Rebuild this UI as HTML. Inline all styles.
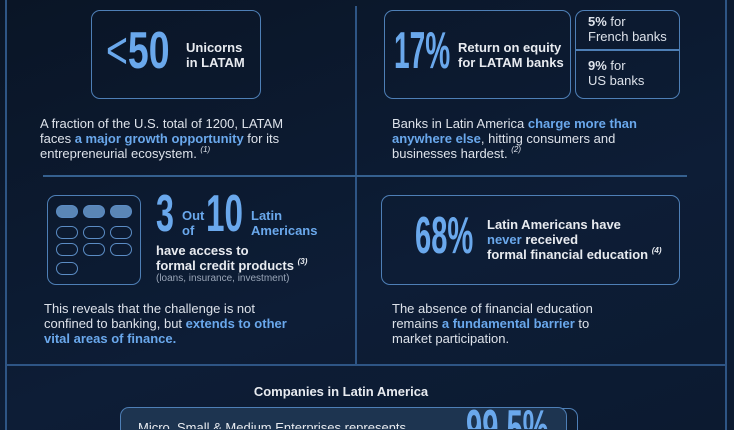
<!DOCTYPE html>
<html><head><meta charset="utf-8"><style>
*{margin:0;padding:0;box-sizing:border-box}
html,body{width:734px;height:430px;overflow:hidden}
body{background:linear-gradient(160deg,#0a1526 0%,#0d1d36 60%,#0c1a30 100%);font-family:"Liberation Sans",sans-serif;color:#e6e9ee;position:relative}
.a{position:absolute}
.box{position:absolute;border:1.5px solid #4e7fb6;border-radius:9px}
.ln{position:absolute;background:#2e5585}
.big{position:absolute;color:#6aa8ec;font-weight:bold;transform-origin:0 0;transform:scaleX(0.56);white-space:nowrap;line-height:1;font-size:52px}
.lbl{font-size:13px;font-weight:bold;line-height:15px;color:#e8ebf0}
.p{font-size:13px;line-height:15px;color:#dde2ea}
.hl{color:#6aa8ec;font-weight:bold}
sup{font-size:8px;font-style:italic;vertical-align:6px;line-height:0}
.pill{position:absolute;width:22px;height:13px;border:1.5px solid #5b8cc4;border-radius:7px}
.f{background:#5a86b6}
#clip{position:absolute;left:0;top:0;width:734px;height:430px;overflow:hidden}
</style></head><body><div id="clip">
<div class="ln" style="left:5px;top:0;width:1.5px;height:430px"></div>
<div class="ln" style="left:355px;top:6px;width:1.5px;height:359px"></div>
<div class="ln" style="left:725px;top:0;width:1.5px;height:430px"></div>
<div class="ln" style="left:43px;top:175px;width:644px;height:1.5px;background:#35608f"></div>
<div class="ln" style="left:5px;top:364px;width:720px;height:1.5px"></div>

<div class="box" style="left:91px;top:10px;width:170px;height:89px"></div>
<div class="big" style="left:106px;top:25px;transform:scaleX(0.72)"><span style="font-weight:normal">&lt;</span>50</div>
<div class="a lbl" style="left:186px;top:40px">Unicorns<br>in LATAM</div>
<div class="a p" style="left:40px;top:116px">A fraction of the U.S. total of 1200, LATAM<br>faces <span class="hl">a major growth opportunity</span> for its<br>entrepreneurial ecosystem. <sup>(1)</sup></div>

<div class="box" style="left:384px;top:10px;width:187px;height:89px"></div>
<div class="big" style="left:394px;top:25px;transform:scaleX(0.54)">17%</div>
<div class="a lbl" style="left:458px;top:40px">Return on equity<br>for LATAM banks</div>
<div class="box" style="left:575px;top:10px;width:105px;height:89px"></div>
<div class="ln" style="left:576px;top:49px;width:103px;height:1.5px;background:#4e7fb6"></div>
<div class="a p" style="left:588px;top:14px"><b>5%</b> for<br>French banks</div>
<div class="a p" style="left:588px;top:58px"><b>9%</b> for<br>US banks</div>
<div class="a p" style="left:392px;top:116px">Banks in Latin America <span class="hl">charge more than<br>anywhere else</span>, hitting consumers and<br>businesses hardest. <sup>(2)</sup></div>

<div class="box" style="left:47px;top:195px;width:94px;height:90px"></div>
<div class="pill f" style="left:56px;top:205px"></div><div class="pill f" style="left:83px;top:205px"></div><div class="pill f" style="left:110px;top:205px"></div>
<div class="pill" style="left:56px;top:226px"></div><div class="pill" style="left:83px;top:226px"></div><div class="pill" style="left:110px;top:226px"></div>
<div class="pill" style="left:56px;top:243px"></div><div class="pill" style="left:83px;top:243px"></div><div class="pill" style="left:110px;top:243px"></div>
<div class="pill" style="left:56px;top:262px"></div>
<div class="big" style="left:156px;top:188px;transform:scaleX(0.62)">3</div>
<div class="a lbl" style="left:182px;top:208px;color:#6aa8ec">Out<br>of</div>
<div class="big" style="left:206px;top:188px;transform:scaleX(0.64)">10</div>
<div class="a lbl" style="left:251px;top:208px;color:#6aa8ec">Latin<br>Americans</div>
<div class="a lbl" style="left:156px;top:243px">have access to<br>formal credit products <sup>(3)</sup></div>
<div class="a" style="left:156px;top:273px;font-size:10px;color:#9aa6b8">(loans, insurance, investment)</div>
<div class="a p" style="left:44px;top:301px">This reveals that the challenge is not<br>confined to banking, but <span class="hl">extends to other<br>vital areas of finance.</span></div>

<div class="box" style="left:381px;top:195px;width:299px;height:90px"></div>
<div class="big" style="left:415px;top:210px">68%</div>
<div class="a lbl" style="left:487px;top:217px">Latin Americans have<br><span style="color:#6aa8ec">never</span> received<br>formal financial education <sup>(4)</sup></div>
<div class="a p" style="left:392px;top:301px">The absence of financial education<br>remains <span class="hl">a fundamental barrier</span> to<br>market participation.</div>

<div class="a lbl" style="left:0;width:682px;top:384px;text-align:center">Companies in Latin America</div>
<div class="a" style="left:128px;top:408px;width:450px;height:22px;border:1.5px solid #4e7fb6;border-bottom:none;border-radius:9px 9px 0 0;background:#0e1c30"></div>
<div class="a" style="left:120px;top:407px;width:447px;height:23px;border:1.5px solid #4e7fb6;border-bottom:none;border-radius:9px 9px 0 0;background:#1d3450;overflow:hidden">
<div class="a p" style="left:17px;top:12px;height:9px;overflow:hidden;color:#e8ebf0;white-space:nowrap">Micro, Small &amp; Medium Enterprises represents</div>
<div class="a" style="left:345px;top:0;width:100px;height:21px;overflow:hidden"><div class="big" style="left:0;top:-5px">99.5%</div></div>
</div>
</div></body></html>
